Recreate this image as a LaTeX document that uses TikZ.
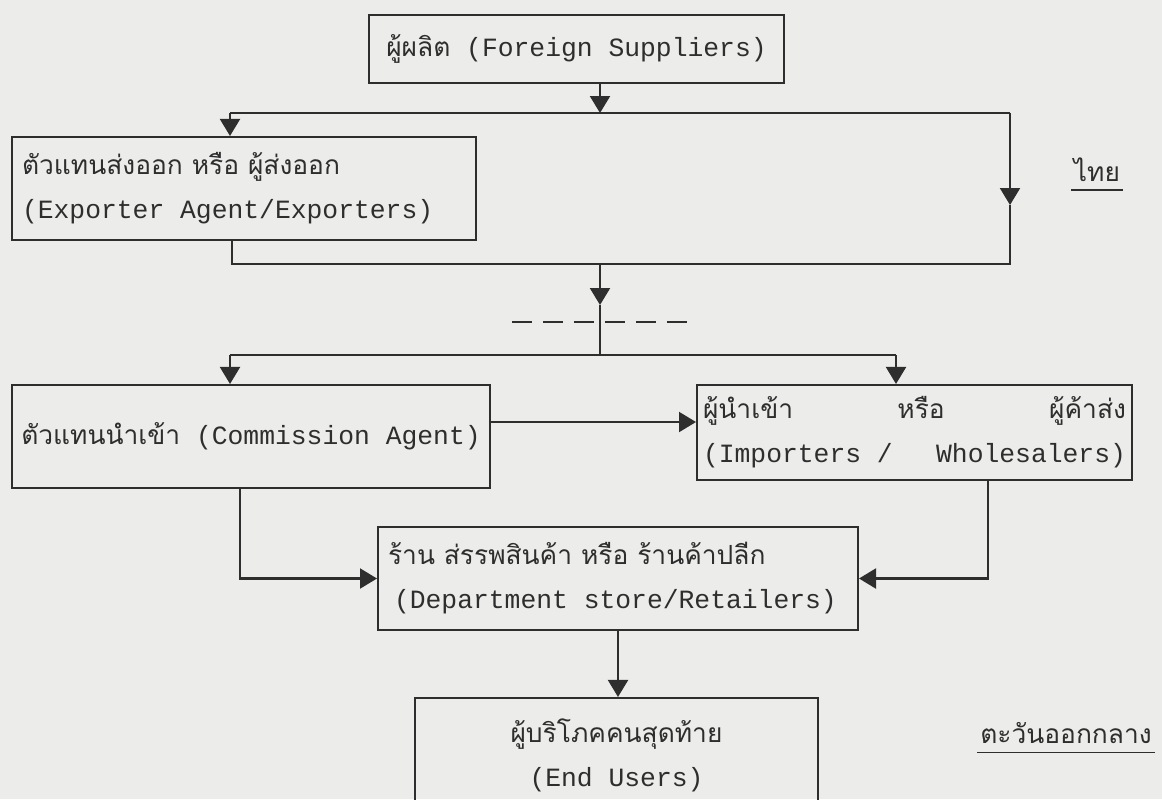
\documentclass[tikz,border=0pt]{standalone}
\usepackage{fontspec}
\setmainfont{Liberation Mono}[WordSpace={1,0,0}]
\newfontfamily\thaifont[Script=Thai]{Loma}
\newcommand{\thaitxt}[1]{{\thaifont #1}}
\usepackage{tikz}
\usetikzlibrary{arrows.meta}
\definecolor{ink}{HTML}{2E2E2E}
\definecolor{paper}{HTML}{ECECEA}

\begin{document}
\begin{tikzpicture}[x=0.02cm,y=-0.02cm,font=\fontsize{15pt}{25pt}\selectfont,
  color=ink,line width=1.2pt,
  box/.style={draw=ink,line width=1.2pt,inner sep=0pt},
  arr/.style={-{Triangle[length=0.34cm,width=0.4cm]}}]
\fill[paper] (0,0) rectangle (1162,799);
\useasboundingbox (0,0) rectangle (1162,799);

% boxes
\node[box,minimum width=8.3cm,minimum height=1.36cm] (sup) at (576.5,49) {\thaitxt{ผู้ผลิต} (Foreign Suppliers)};
\node[box,minimum width=9.28cm,minimum height=2.06cm,text width=8.88cm,inner xsep=0.2cm,align=flush left] (exp) at (244,188.5)
  {\thaitxt{ตัวแทนส่งออก หรือ ผู้ส่งออก}\\(Exporter Agent/Exporters)};
\node[box,minimum width=9.56cm,minimum height=2.06cm] (com) at (251,436.5) {\thaitxt{ตัวแทนนำเข้า} (Commission Agent)};
\node[box,minimum width=8.7cm,minimum height=1.9cm,text width=8.46cm,inner xsep=0.12cm,align=flush left] (imp) at (914.5,432.5)
  {\thaitxt{ผู้นำเข้า}\hfill\thaitxt{หรือ}\hfill\thaitxt{ผู้ค้าส่ง}\hspace*{0.35cm}\\(Importers /\hfill Wholesalers)};
\node[box,minimum width=9.6cm,minimum height=2.06cm,text width=9.2cm,inner xsep=0.2cm,align=flush left] (ret) at (618,578.5)
  {\thaitxt{ร้าน ส่รรพสินค้า หรือ ร้านค้าปลีก}\\\hspace*{0.12cm}(Department store/Retailers)};
\node[box,minimum width=8.06cm,minimum height=2.28cm,align=center] (end) at (616.5,755)
  {\thaitxt{ผู้บริโภคคนสุดท้าย}\\(End Users)};

% side labels
\node[inner sep=1pt] (thai) at (1097,170) {\thaitxt{ไทย}};
\draw[line width=1pt] ([yshift=-0.1cm]thai.south west) -- ([yshift=-0.1cm]thai.south east);
\node[inner sep=1pt] (mideast) at (1066,733) {\thaitxt{ตะวันออกกลาง}};
\draw[line width=1pt] ([yshift=-0.12cm]mideast.south west) -- ([yshift=-0.12cm]mideast.south east);

% junctions
\coordinate (busL) at (230,113);
\coordinate (busR) at (1010,113);
\coordinate (rtip) at (1010,205);
\coordinate (rbot) at (1010,264);
\coordinate (eL) at (232,264);
\coordinate (jn) at (600,264);
\coordinate (mtip) at (600,305);
\coordinate (lowM) at (600,355);
\coordinate (lowL) at (230,355);
\coordinate (lowR) at (896,355);
\coordinate (bdA) at (512,322);
\coordinate (bdB) at (693,322);
\coordinate (cL) at (240,578);
\coordinate (cR) at (988,578);

\draw[arr] (sup.south -| jn) -- (busL -| jn);
\draw (busL) -- (busR);
\draw[arr] (busR) -- (rtip);
\draw (rtip) -- (rbot) -- (eL) -- (eL |- exp.south);
\draw[arr] (jn) -- (mtip);
\draw (mtip) -- (lowM);
\draw[dash pattern=on 0.4cm off 0.22cm] (bdA) -- (bdB);
\draw (lowL) -- (lowR);
\foreach \c/\b in {busL/exp,lowL/com,lowR/imp}{
  \draw[arr] (\c) -- (\c |- \b.north);
}
\draw[arr] ([yshift=0.29cm]com.east) -- ([yshift=0.29cm]com.east -| imp.west);
\draw[arr] (com.south -| cL) |- (ret.west);
\draw[arr] (imp.south -| cR) |- (ret.east);
\draw[arr] (ret.south) -- (ret.south |- end.north);
\end{tikzpicture}
\end{document}
